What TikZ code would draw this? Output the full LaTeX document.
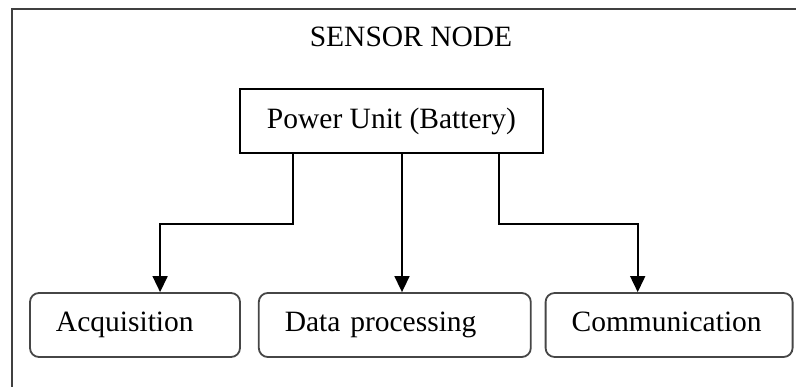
\documentclass[tikz,border=0pt]{standalone}
\usepackage{fontspec}
\setmainfont{Liberation Serif}
\usepackage{tikz}
\usetikzlibrary{arrows.meta,positioning,calc}
\definecolor{frameGray}{RGB}{64,64,64}
\definecolor{boxGray}{RGB}{70,70,70}
\tikzset{
  unit node/.style={draw=black,line width=1.6pt,minimum width=303pt,minimum height=64pt,inner sep=0pt,font=\fontsize{29.5}{32}\selectfont},
  block node/.style={draw=boxGray,line width=1.8pt,rounded corners=9pt,minimum height=64pt,inner xsep=26pt,inner ysep=0pt,text height=20pt,text depth=6pt,align=left,font=\fontsize{29.5}{32}\selectfont},
  flow arrow/.style={-{Triangle[length=16pt,width=15pt]},line width=1.6pt,draw=black},
  frame line/.style={draw=frameGray,line width=2.4pt}
}

\begin{document}
\begin{tikzpicture}[x=1pt,y=-1pt]
        \useasboundingbox (0,0) rectangle (796,387);
        \clip (0,0) rectangle (796,387);
        \draw[frame line] (12,9) rectangle (820,410);
        \node[font=\fontsize{29.5}{32}\selectfont] (title) at (411,37) {SENSOR NODE};
        \node[unit node] (power) at (391.5,121) {Power Unit (Battery)};
        \node[block node,text width=158pt] (acq) at (135,325) {Acquisition};
        \node[block node,text width=220pt,right=17pt of acq] (data) {Data processing};
        \node[block node,text width=195pt,right=13pt of data] (comm) {Communication};
        \draw[flow arrow] ([xshift=-98.5pt]power.south) -- ++(0,70) -| ([xshift=131pt]acq.north west);
        \draw[flow arrow] ([xshift=10.5pt]power.south) -- ([xshift=10.5pt]power.south |- data.north);
        \draw[flow arrow] ([xshift=107.5pt]power.south) -- ++(0,70) -| ([xshift=93pt]comm.north west);
      \end{tikzpicture}
\end{document}
